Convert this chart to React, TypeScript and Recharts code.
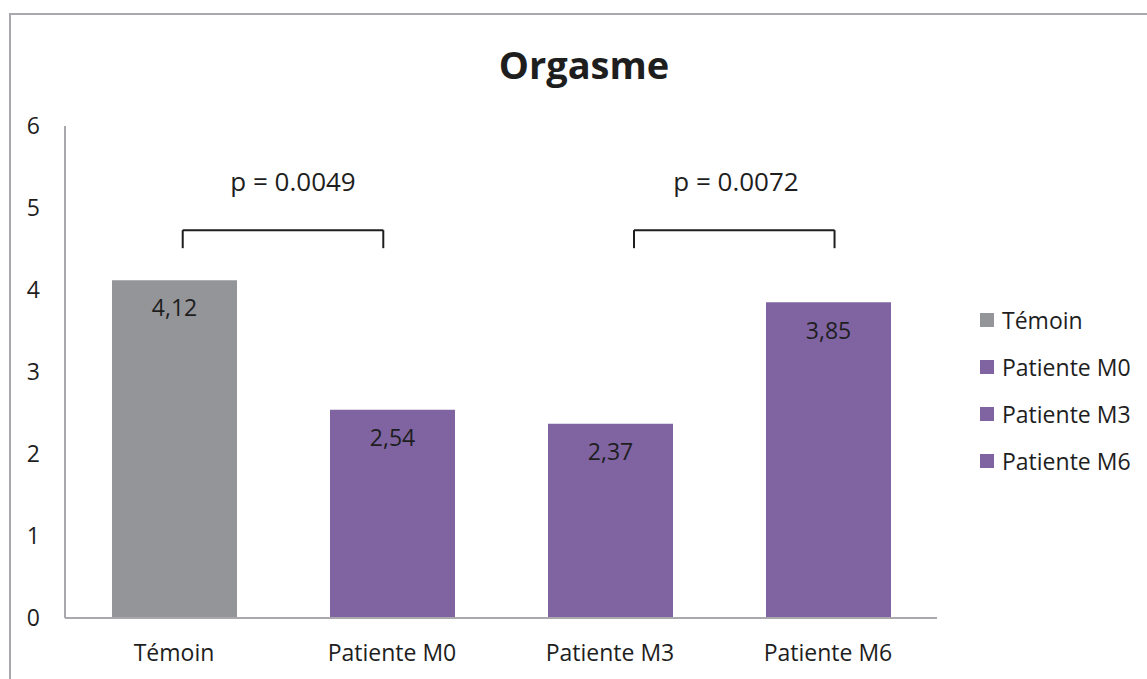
import React from 'react';
import {
  BarChart,
  Bar,
  XAxis,
  YAxis,
  Cell,
  LabelList,
  Legend,
  ReferenceLine,
  ReferenceDot,
} from 'recharts';

// values
const categories = ['Témoin', 'Patiente M0', 'Patiente M3', 'Patiente M6'];
const scores = [4.12, 2.54, 2.37, 3.85];
const barColors = ['#939598', '#8064A2', '#8064A2', '#8064A2'];
const yTicks = [0, 1, 2, 3, 4, 5, 6];
const pLabels = ['p = 0.0049', 'p = 0.0072'];

// slot = centre of each category on a 0..4 scale, used for the annotations
const data = categories.map((name, i) => ({ name, value: scores[i], slot: i + 0.5 }));

// brackets, in units of the hidden 0..4 axis
const brackets = [
  { from: 0.54, to: 1.46, textX: 1.046, label: pLabels[0] },
  { from: 2.61, to: 3.53, textX: 3.078, label: pLabels[1] },
];
const BRACKET_TOP = 4.73;
const BRACKET_FOOT = 4.51;
const TEXT_Y = 5.32;

const FONT = '"Open Sans", "Noto Sans", sans-serif';
const INK = '#1e1e1e';
const AXIS = '#a9a9ad';

const renderLegend = () => (
  <div style={{ fontFamily: FONT, fontSize: 23, color: INK }}>
    {categories.map((c, i) => (
      <div key={c} style={{ display: 'flex', alignItems: 'center', height: 47 }}>
        <span style={{ width: 14, height: 14, background: barColors[i], marginRight: 8, display: 'inline-block' }} />
        <span>{c}</span>
      </div>
    ))}
  </div>
);

export default function App() {
  return (
    <div style={{ position: 'absolute', left: 0, top: 0, width: 1147, height: 679, overflow: 'hidden', background: '#fff', fontFamily: FONT }}>
      <div style={{ position: 'absolute', left: 9, top: 13, width: 1300, height: 800, borderLeft: `2px solid ${AXIS}`, borderTop: `2px solid ${AXIS}` }} />
      <div style={{ position: 'absolute', left: 434, top: 39, width: 300, textAlign: 'center', fontSize: 38, lineHeight: '50px', fontWeight: 700, color: INK }}>
        Orgasme
      </div>
      <div style={{ position: 'absolute', left: 0, top: 0 }}>
        <BarChart width={1147} height={679} data={data} margin={{ top: 126, right: 210, bottom: 21, left: 25 }}>
          <XAxis
            dataKey="name"
            height={40}
            tickSize={0}
            tickMargin={27}
            axisLine={{ stroke: AXIS, strokeWidth: 2 }}
            tick={{ fontSize: 23, fill: INK }}
          />
          <XAxis xAxisId="num" dataKey="slot" type="number" domain={[0, 4]} allowDataOverflow hide />
          <YAxis
            width={40}
            domain={[0, 6]}
            ticks={yTicks}
            interval={0}
            tickSize={0}
            tickMargin={25}
            axisLine={{ stroke: AXIS, strokeWidth: 2 }}
            tick={{ fontSize: 23, fill: INK }}
          />
          <Legend
            layout="vertical"
            align="center"
            verticalAlign="middle"
            content={renderLegend}
            wrapperStyle={{ left: 980, top: 296, width: 'auto' }}
          />
          <Bar dataKey="value" barSize={125} isAnimationActive={false}>
            {data.map((d, i) => (
              <Cell key={d.name} fill={barColors[i]} />
            ))}
            <LabelList
              dataKey="value"
              position="insideTop"
              offset={20}
              fill={INK}
              fontSize={23}
              formatter={(v: number) => v.toFixed(2).replace('.', ',')}
            />
          </Bar>
          {brackets.map((b) => (
            <React.Fragment key={b.label}>
              <ReferenceLine xAxisId="num" segment={[{ x: b.from, y: BRACKET_TOP }, { x: b.to, y: BRACKET_TOP }]} stroke={INK} strokeWidth={2} ifOverflow="visible" />
              <ReferenceLine xAxisId="num" segment={[{ x: b.from, y: BRACKET_TOP }, { x: b.from, y: BRACKET_FOOT }]} stroke={INK} strokeWidth={2} ifOverflow="visible" />
              <ReferenceLine xAxisId="num" segment={[{ x: b.to, y: BRACKET_TOP }, { x: b.to, y: BRACKET_FOOT }]} stroke={INK} strokeWidth={2} ifOverflow="visible" />
              <ReferenceDot
                xAxisId="num"
                x={b.textX}
                y={TEXT_Y}
                r={0}
                stroke="none"
                ifOverflow="visible"
                label={{ value: b.label, position: 'center', fill: INK, fontSize: 26 }}
              />
            </React.Fragment>
          ))}
        </BarChart>
      </div>
    </div>
  );
}
